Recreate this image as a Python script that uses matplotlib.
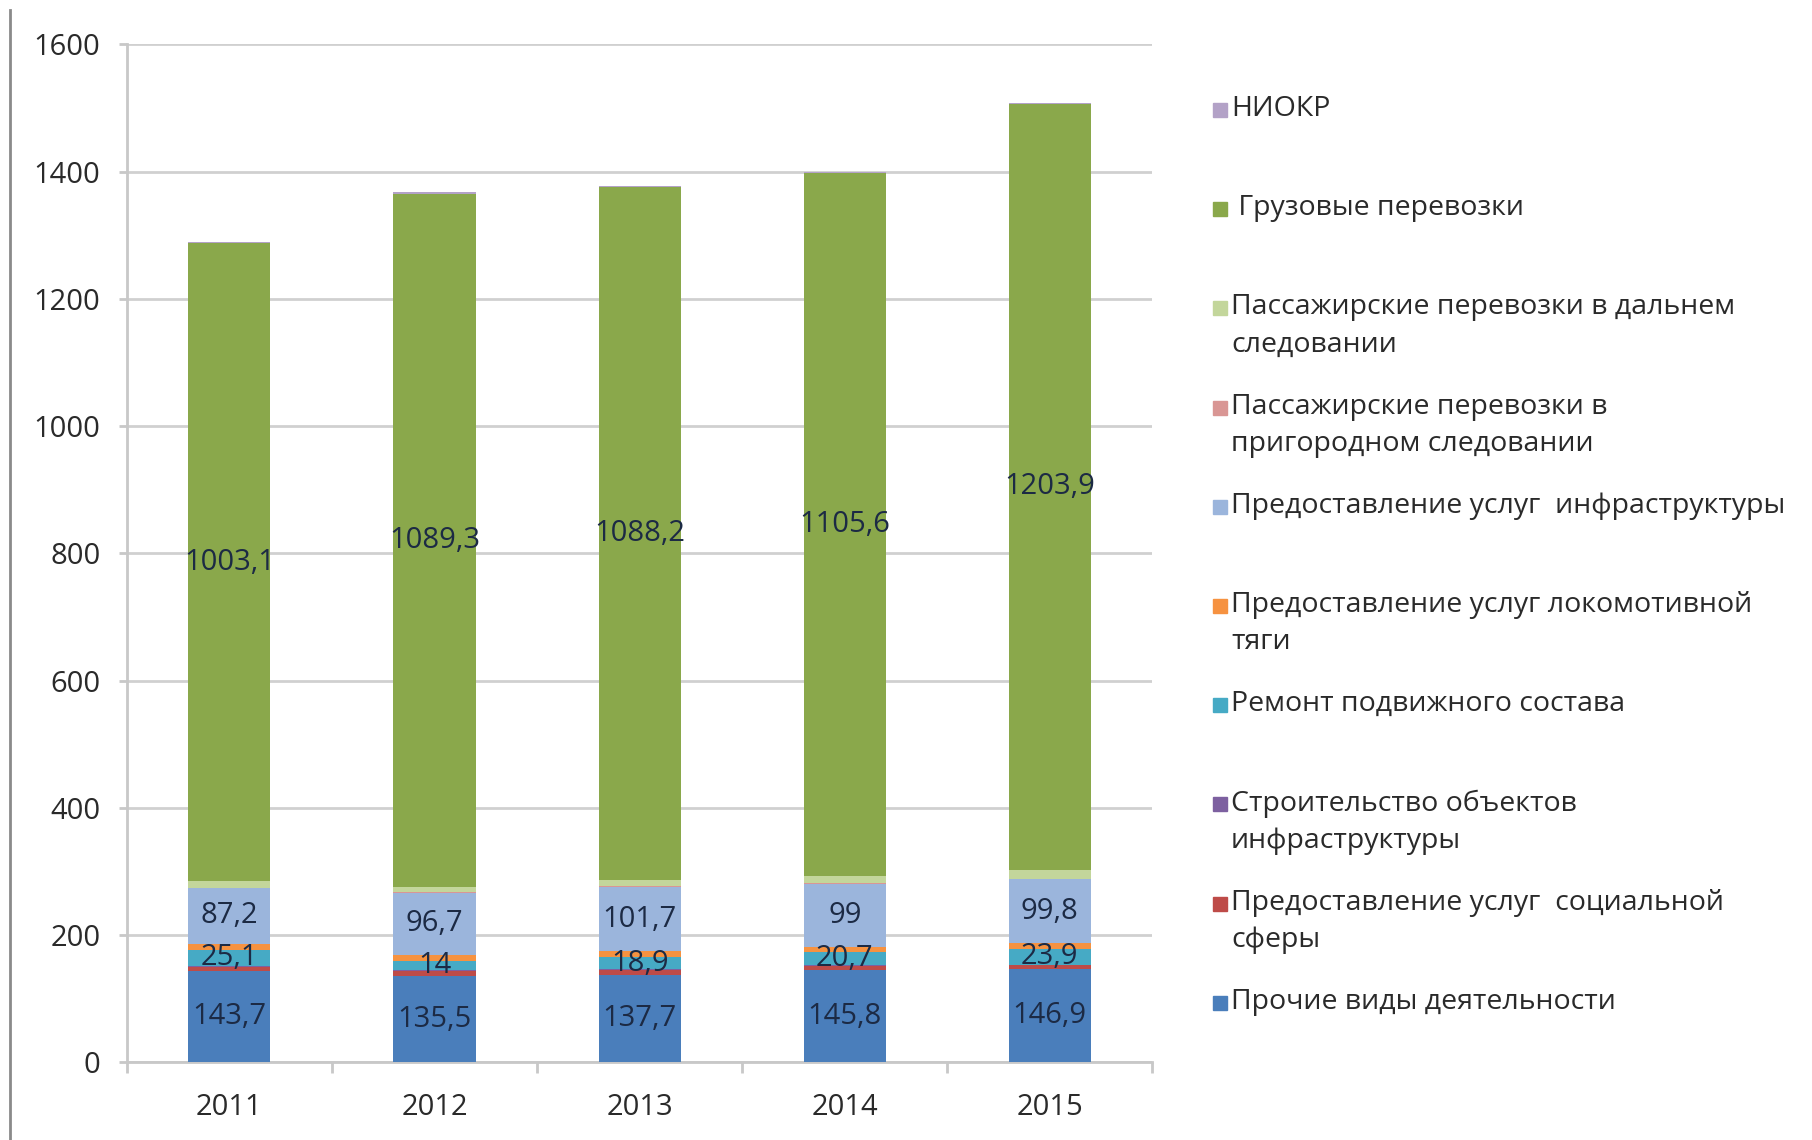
import matplotlib.pyplot as plt
from matplotlib.patches import Rectangle
from matplotlib.lines import Line2D
import numpy as np

plt.rcParams['font.family'] = ['Open Sans', 'DejaVu Sans']

# годы
years = ['2011', '2012', '2013', '2014', '2015']

# ряды снизу вверх
prochie = [143.7, 135.5, 137.7, 145.8, 146.9]
socialnoy = [7, 9, 8, 6, 6]
stroitelstvo = [1, 1, 1, 1, 1]
remont = [25.1, 14, 18.9, 20.7, 23.9]
lokomotiv = [10, 10, 9, 8, 10]
infrastr = [87.2, 96.7, 101.7, 99, 99.8]
prigorod = [1, 1, 1, 1, 1]
dalniy = [10, 9, 10, 11, 14]
gruz = [1003.1, 1089.3, 1088.2, 1105.6, 1203.9]
niokr = [2, 2, 2, 2, 2]

series = [
    ('Прочие виды деятельности', prochie, '#4A7EBB', True),
    ('Предоставление услуг  социальной\nсферы', socialnoy, '#BE4B48', False),
    ('Строительство объектов\nинфраструктуры', stroitelstvo, '#7D60A0', False),
    ('Ремонт подвижного состава', remont, '#46AAC5', True),
    ('Предоставление услуг локомотивной\nтяги', lokomotiv, '#F69240', False),
    ('Предоставление услуг  инфраструктуры', infrastr, '#9BB5DC', True),
    ('Пассажирские перевозки в\nпригородном следовании', prigorod, '#D99694', False),
    ('Пассажирские перевозки в дальнем\nследовании', dalniy, '#C3D69B', False),
    (' Грузовые перевозки', gruz, '#8AA84B', True),
    ('НИОКР', niokr, '#B3A2C7', False),
]

fig = plt.figure(figsize=(18.12, 11.4), dpi=100)
ax = fig.add_axes([0.070, 0.068, 0.566, 0.893])

x = np.arange(len(years))
bottom = np.zeros(len(years))
for name, vals, col, lab in series:
    vals = np.array(vals, dtype=float)
    ax.bar(x, vals, 0.4, bottom=bottom, color=col, zorder=3)
    if lab:
        for xi, b, v in zip(x, bottom, vals):
            ax.text(xi, b + v / 2, f'{v:g}'.replace('.', ','), ha='center', va='center',
                    fontsize=21, color='#1c2a44', zorder=4)
    bottom += vals

ax.set_xlim(-0.5, len(years) - 0.5)
ax.set_ylim(0, 1600)
ax.set_yticks(range(0, 1601, 200))
ax.yaxis.grid(True, color='#d0d0d0', lw=2, zorder=0)
ax.set_xticks(x)
ax.set_xticklabels(years)
ax.set_xticks(np.arange(-0.5, len(years)), minor=True)
ax.tick_params(axis='x', which='major', length=0, pad=22, labelsize=21, labelcolor='#2a2a2a')
ax.tick_params(axis='x', which='minor', length=8, width=2, color='#c8c8c8', direction='out')
ax.tick_params(axis='y', length=6, width=2, color='#c8c8c8', pad=13, labelsize=21, labelcolor='#2a2a2a')
for s in ['top', 'right']:
    ax.spines[s].set_visible(False)
for s in ['left', 'bottom']:
    ax.spines[s].set_color('#c8c8c8')
    ax.spines[s].set_linewidth(2)

# легенда вручную, как в Excel
leg_x = 1213 / 1812
txt_x = 1231 / 1812
for i, (name, vals, col, lab) in enumerate(series[::-1]):
    y = 1 - (110 + i * 99.2) / 1140
    fig.add_artist(Rectangle((leg_x, y - 7 / 1140), 14 / 1812, 14 / 1140,
                             transform=fig.transFigure, color=col))
    fig.text(txt_x, y + 15 / 1140, name, ha='left', va='top', fontsize=20.5,
             color='#2a2a2a', linespacing=1.45)

# рамка слева
fig.add_artist(Line2D([10 / 1812, 10 / 1812], [0, 1 - 10 / 1140], color='#8a8a8a', lw=2))

fig.savefig('out.png', dpi=100)
